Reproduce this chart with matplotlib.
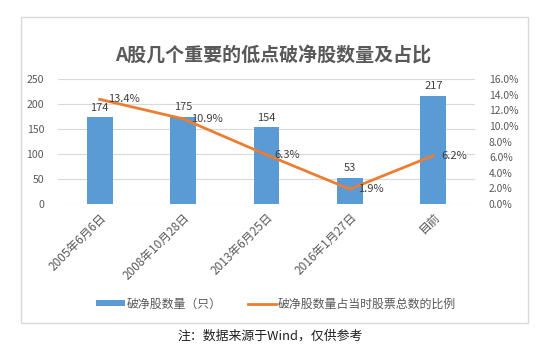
import matplotlib
matplotlib.use("Agg")
import matplotlib.pyplot as plt
from matplotlib.patches import Rectangle, Patch
from matplotlib.lines import Line2D
from matplotlib.ticker import FuncFormatter
import numpy as np

plt.rcParams['font.family'] = ['Noto Sans CJK SC', 'DejaVu Sans']

# data
categories = ['2005年6月6日', '2008年10月28日', '2013年6月25日', '2016年1月27日', '目前']
counts = [174, 175, 154, 53, 217]
ratios = [13.4, 10.9, 6.3, 1.9, 6.2]

title = 'A股几个重要的低点破净股数量及占比'
bar_label = '破净股数量（只）'
line_label = '破净股数量占当时股票总数的比例'
note = '注：数据来源于Wind，仅供参考'

blue = '#5B9BD5'
orange = '#ED7D31'
grey = '#595959'

fig = plt.figure(figsize=(5.52, 3.57), dpi=100)
fig.patch.set_facecolor('white')

# chart frame
fig.patches.append(Rectangle((21 / 552, 1 - 323 / 357), 507 / 552, 306 / 357,
                             transform=fig.transFigure, fill=False,
                             edgecolor='#d9d9d9', linewidth=1.0))

ax = fig.add_axes([58 / 552, 1 - 204 / 357, 417 / 552, 125 / 357])
x = np.arange(len(categories))

ax.bar(x, counts, width=0.31, color=blue, zorder=2)
ax.set_xlim(-0.5, len(categories) - 0.5)
ax.set_ylim(0, 250)
ax.set_yticks(range(0, 251, 50))
ax.grid(axis='y', color='#d9d9d9', linewidth=0.8, zorder=0)
for s in ax.spines.values():
    s.set_visible(False)
ax.tick_params(axis='both', length=0, colors=grey, labelsize=7.6)
ax.tick_params(axis='y', pad=10)
ax.set_xticks(x)
ax.set_xticklabels(categories, rotation=45, ha='right', rotation_mode='anchor',
                   fontsize=8.5)
ax.tick_params(axis='x', pad=5)

for xi, c in zip(x, counts):
    ax.annotate(str(c), (xi, c), xytext=(0, 3), textcoords='offset points',
                ha='center', va='bottom', fontsize=8, color='#404040')

ax2 = ax.twinx()
ax2.plot(x, ratios, color=orange, linewidth=2.0, zorder=3)
ax2.set_ylim(0, 16)
ax2.set_yticks(np.arange(0, 16.1, 2))
ax2.yaxis.set_major_formatter(FuncFormatter(lambda v, p: f'{v:.1f}%'))
for s in ax2.spines.values():
    s.set_visible(False)
ax2.tick_params(axis='y', length=0, colors=grey, labelsize=7.4, pad=10)

for xi, r in zip(x, ratios):
    ax2.annotate(f'{r}%', (xi, r), xytext=(6, 0), textcoords='offset points',
                 ha='left', va='center', fontsize=8, color='#404040')

fig.text(0.495, 1 - 56 / 357, title, ha='center', va='center',
         fontsize=13.7, fontweight='bold', color=grey)

handles = [Patch(facecolor=blue, edgecolor='none'),
           Line2D([0], [0], color=orange, linewidth=2.0)]
leg = fig.legend(handles, [bar_label, line_label], loc='center',
                 bbox_to_anchor=(0.5, 1 - 304 / 357), ncol=2, frameon=False,
                 fontsize=8.6, handlelength=2.4, handleheight=0.4,
                 handletextpad=0.1, columnspacing=2.2)
for t in leg.get_texts():
    t.set_color(grey)

fig.text(0.49, 1 - 336 / 357, note, ha='center', va='center',
         fontsize=9.3, color='#202020')

fig.savefig('out.png', dpi=100, facecolor='white')
